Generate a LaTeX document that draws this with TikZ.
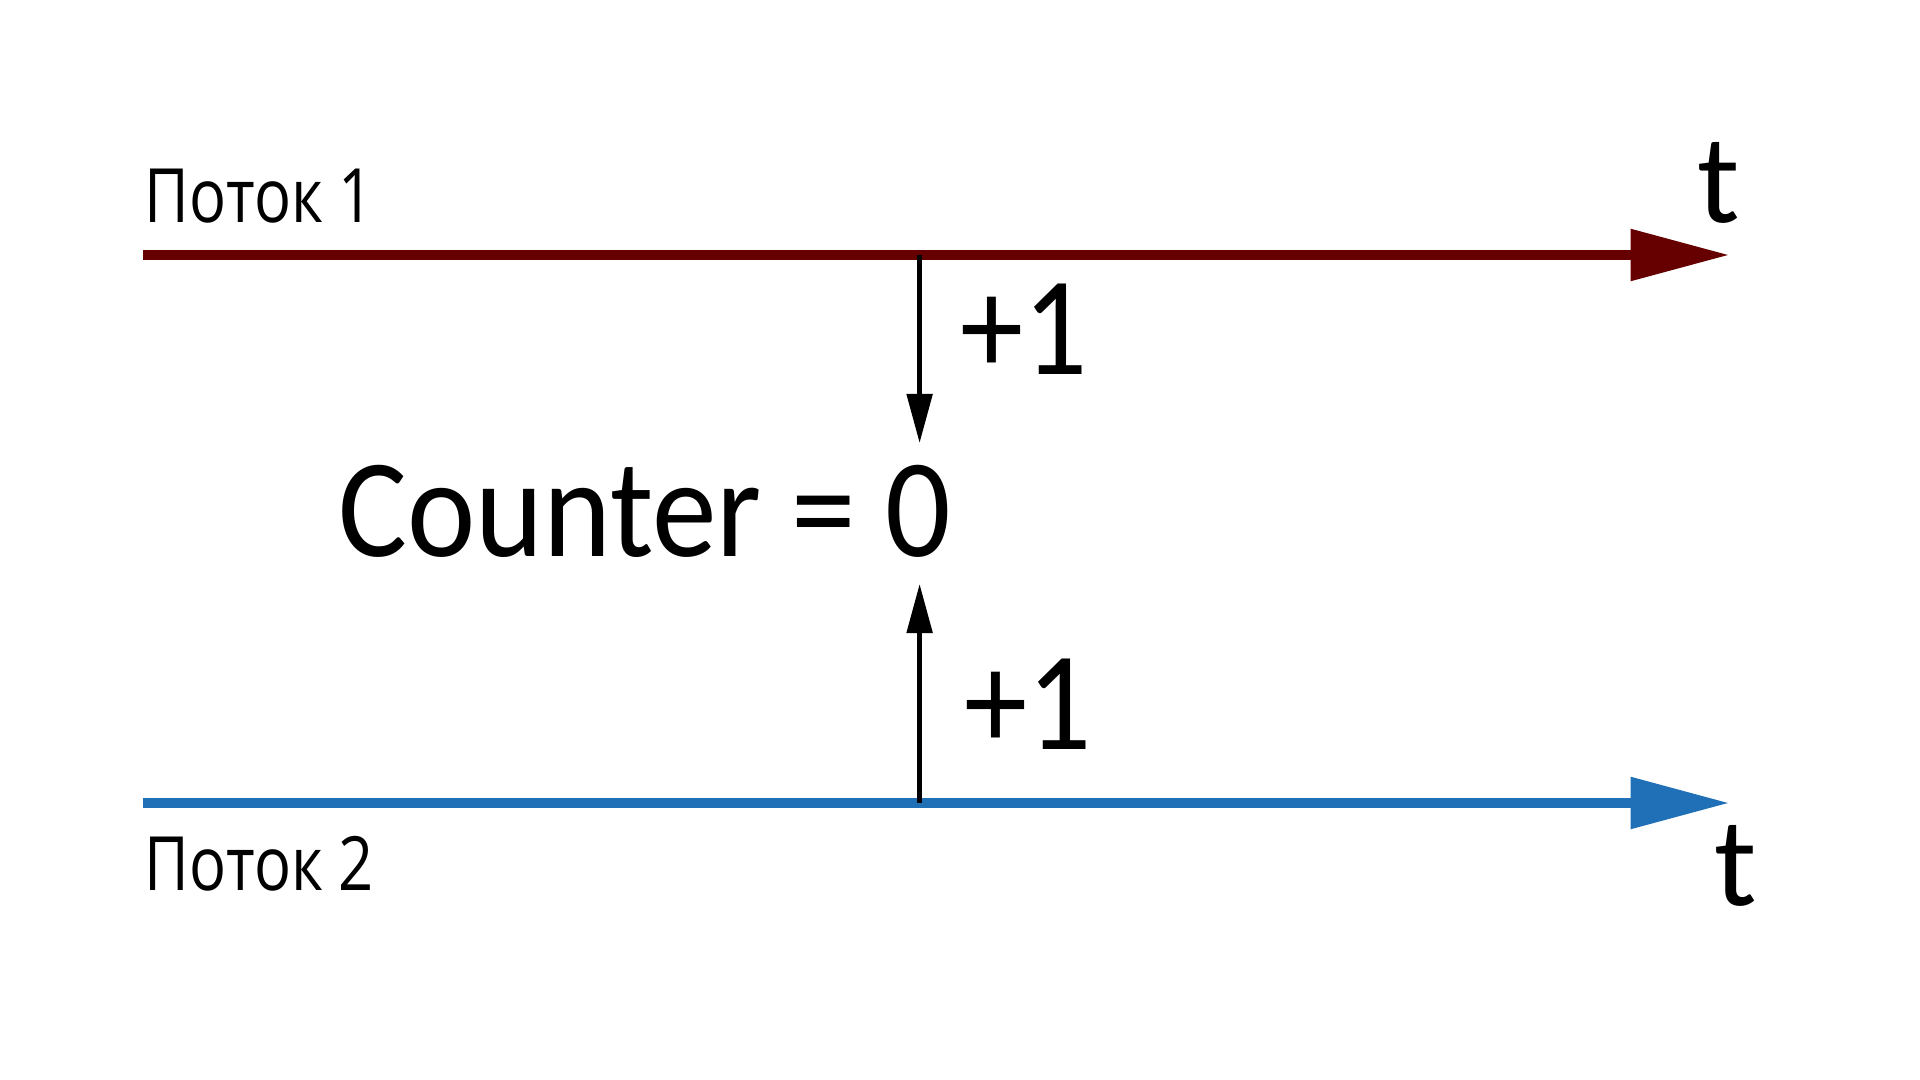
\documentclass[tikz,border=0pt]{standalone}
\usepackage{fontspec}
\usepackage{graphicx}
\setmainfont{Carlito}
\newfontfamily\labelfont{Open Sans}
\usetikzlibrary{arrows.meta}
\definecolor{threadred}{RGB}{102,0,0}
\definecolor{threadblue}{RGB}{31,112,183}
\newcommand{\narrow}[2]{\scalebox{#1}[1]{#2}}
\begin{document}
\begin{tikzpicture}[x=0.01cm, y=-0.01cm,
		timeline/.style={line width=2.6pt, -{Triangle[length=28pt, width=14.2pt]}},
		incr/.style={line width=1.3pt, -{Triangle[length=14pt, width=7.2pt]}},
		big/.style={inner sep=0pt, font=\fontsize{40}{48}\selectfont},
		small/.style={inner sep=0pt, font=\fontsize{21.3}{26}\labelfont}]
			\useasboundingbox (0,0) rectangle (1920,1080);
			
			%threads
			\coordinate (s1) at (143,255);
			\coordinate (e1) at (1729,255);
			\coordinate (s2) at (143,803);
			\coordinate (e2) at (1729,803);
			\draw[timeline, threadred] (s1) -- (e1);
			\draw[timeline, threadblue] (s2) -- (e2);
			\node[small, anchor=base west] (name1) at (144,223){\narrow{0.82}{Поток 1}};
			\node[small, anchor=base west] (name2) at (144,891){\narrow{0.82}{Поток 2}};
			\node[big, font=\fontsize{36}{44}\selectfont, anchor=base] (t1) at (1719,223){t};
			\node[big, font=\fontsize{36}{44}\selectfont, anchor=base] (t2) at (1736,906){t};
			
			%shared counter
			\node[big, anchor=base west] (counter) at (338,557){\narrow{0.92}{Counter = 0}};
			\coordinate (hit1) at (919.6,255);
			\coordinate (tip1) at (919.6,443);
			\coordinate (hit2) at (919.6,803);
			\coordinate (tip2) at (919.6,584);
			\draw[incr] (hit1) -- (tip1);
			\draw[incr] (hit2) -- (tip2);
			\node[big, anchor=base west] (inc1) at (960,375){\narrow{0.9}{+1}};
			\node[big, anchor=base west] (inc2) at (964,750){\narrow{0.9}{+1}};
		\end{tikzpicture}
\end{document}
